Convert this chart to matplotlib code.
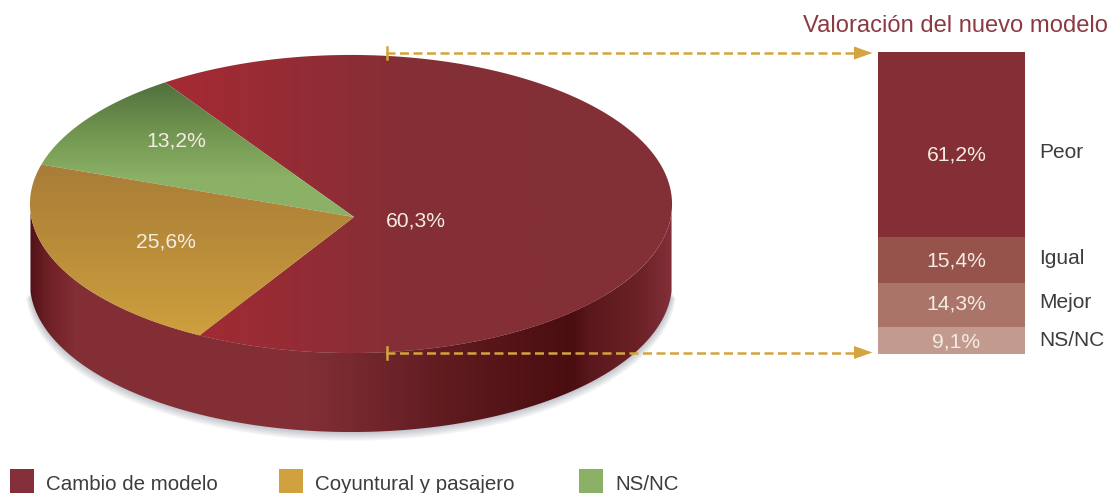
import numpy as np
import matplotlib
matplotlib.use('Agg')
import matplotlib.pyplot as plt
from matplotlib.colors import to_rgb
from matplotlib.patches import Polygon

plt.rcParams['font.family'] = ['Liberation Sans', 'DejaVu Sans']

# pie: printed labels, and slice sizes as drawn (the drawing does not follow the printed numbers)
pie_names = ['Cambio de modelo', 'Coyuntural y pasajero', 'NS/NC']
pie_labels = ['60,3%', '25,6%', '13,2%']
pie_drawn = [67.8, 21.9, 10.3]
pie_colors = ['#84303a', '#d0a13e', '#8ab166']

# stacked bar
bar_names = ['Peor', 'Igual', 'Mejor', 'NS/NC']
bar_values = [61.2, 15.4, 14.3, 9.1]
bar_labels = ['61,2%', '15,4%', '14,3%', '9,1%']
bar_colors = ['#842f36', '#95534b', '#aa7568', '#c29b8e']

title = 'Valoración del nuevo modelo'


def project(theta, drop=0):
    # circle seen in perspective, the centre does not sit in the middle of the ellipse
    x, y = np.cos(theta), np.sin(theta)
    w = 1 - 0.0873 * y + 0.0093 * x
    return np.column_stack([354 + 319.8 * x / w, 217 - 147.9 * y / w + drop])


def gradient(ax, stops, clip, vertical=False):
    pos = [s[0] for s in stops]
    rgb = np.array([to_rgb(s[1]) for s in stops])
    t = np.arange(pos[0], pos[-1] + 1)
    img = np.stack([np.interp(t, pos, rgb[:, i]) for i in range(3)], axis=-1)
    if vertical:
        img = img[:, None, :]
        extent = (0, 1110, pos[-1], pos[0])
    else:
        img = img[None, :, :]
        extent = (pos[0], pos[-1], 493, 0)
    im = ax.imshow(img, extent=extent, aspect='auto', interpolation='bilinear', zorder=2)
    patch = Polygon(clip, closed=True, transform=ax.transData)
    im.set_clip_path(patch)


fig = plt.figure(figsize=(11.1, 4.93), dpi=100)
ax = fig.add_axes([0, 0, 1, 1], zorder=2)

# side of the disc
depth = 79
front = np.linspace(np.pi * 0.99, np.pi * 2.01, 200)
side = np.vstack([project(front, depth), project(front[::-1])])

# soft shadow
for i in range(12):
    c = np.array([352, 260])
    pts = project(front, depth)
    pts = c + (pts - c) * (1 + 0.0012 * i) + [0, i * 0.6]
    ax.add_patch(Polygon(pts, closed=True, fc='#4a5468', ec='none', alpha=0.03, zorder=1))

side_stops = [(28, '#4e1015'), (45, '#6b1f24'), (75, '#842e35'), (300, '#832f36'), (350, '#772a30'),
              (400, '#6b2228'), (450, '#5f1b1f'), (573, '#4a0d10'), (590, '#5a181c'), (640, '#6c2227'),
              (674, '#84303a')]
gradient(ax, side_stops, side)

# top of the pie, slices run counter clockwise: red, green, gold
red_stops = [(100, '#a62a33'), (165, '#a62a33'), (300, '#942c35'), (400, '#852f36'), (680, '#832f36')]
gold_stops = [(160, '#a87c38'), (250, '#ba8d3a'), (340, '#d0a13e')]
green_stops = [(80, '#4f6e3d'), (130, '#70944f'), (178, '#8ab166'), (225, '#8ab166')]
slice_stops = [red_stops, gold_stops, green_stops]
start = np.radians(238.9)
for i in [0, 2, 1]:
    end = start + 2 * np.pi * pie_drawn[i] / sum(pie_drawn)
    arc = project(np.linspace(start, end, 150))
    gradient(ax, slice_stops[i], np.vstack([[[354, 217]], arc]), vertical=i != 0)
    start = end

pie_label_xy = [(416, 221), (166, 242), (176, 141)]
for lab, (x, y) in zip(pie_labels, pie_label_xy):
    ax.text(x, y, lab, color='#f3ece4', fontsize=15.2, ha='center', va='center', zorder=5)

# dashed arrows
gold = '#d3a43f'
for y in [53, 352.5]:
    ax.plot([386, 856], [y, y], color=gold, lw=1.8, dashes=(3.6, 1.8), zorder=6)
    ax.plot([386.5, 386.5], [y - 6, y + 6], color=gold, lw=1.8, zorder=6)
    ax.add_patch(Polygon([[854, y - 6.5], [872.5, y], [854, y + 6.5]], closed=True, fc=gold, ec='none', zorder=6))

# title
ax.text(1108, 26, title, color='#8b3a42', fontsize=17.15, ha='right', va='center')

# legend
legend_x = [10, 279, 579]
for name, col, x in zip(pie_names, pie_colors, legend_x):
    ax.add_patch(Polygon([[x, 469], [x + 24, 469], [x + 24, 493], [x, 493]], closed=True, fc=col, ec='none'))
    ax.text(x + 36, 484, name, color='#3c3c3c', fontsize=14.8, ha='left', va='center')

ax.set_xlim(0, 1110)
ax.set_ylim(493, 0)
ax.axis('off')

# stacked bar
bx = fig.add_axes([878 / 1110, 1 - 354 / 493, 147 / 1110, 302 / 493], zorder=1)
bottom = 0
for v, col in zip(bar_values, bar_colors):
    bx.bar(0, v, bottom=bottom, width=1, color=col, linewidth=0)
    bottom += v
bx.set_xlim(-0.5, 0.5)
bx.set_ylim(100, 0)
bx.axis('off')

bar_label_y = [155, 261, 304, 342]
bar_name_y = [153, 259, 303, 340]
for lab, name, y1, y2 in zip(bar_labels, bar_names, bar_label_y, bar_name_y):
    ax.text(956.5, y1, lab, color='#f3ece4', fontsize=15.2, ha='center', va='center', zorder=5)
    ax.text(1039, y2, name, color='#3c3c3c', fontsize=15, ha='left', va='center', zorder=5)

fig.savefig('out.png', dpi=100)
